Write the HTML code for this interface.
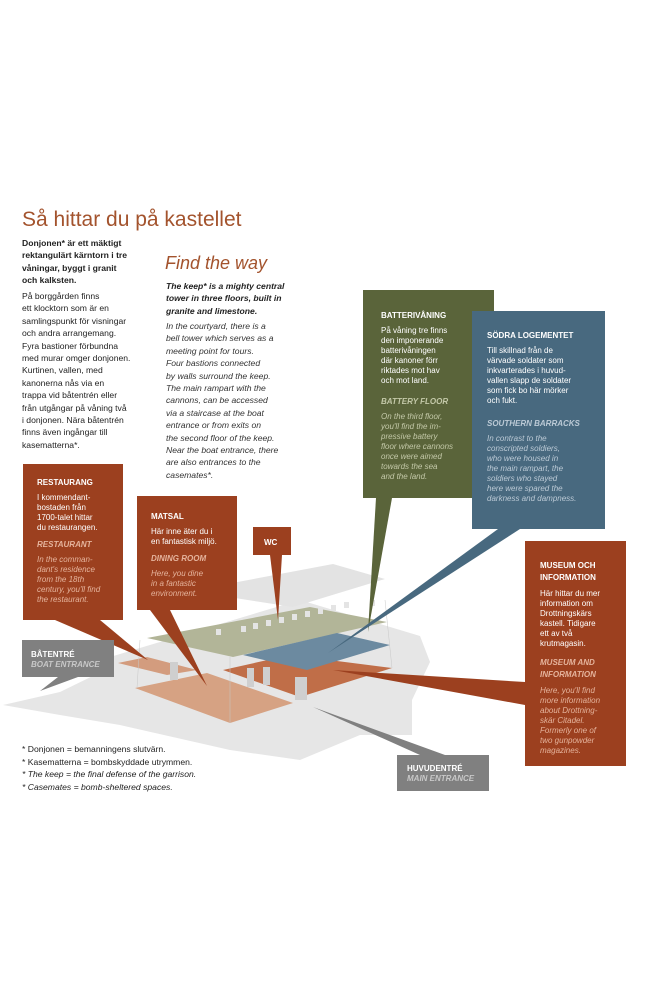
<!DOCTYPE html>
<html><head><meta charset="utf-8">
<style>
body{margin:0;width:645px;height:1000px;background:#fff;position:relative;overflow:hidden;font-family:"Liberation Sans",sans-serif;}
.a{position:absolute;}
svg{position:absolute;left:0;top:0;}
.t{font-size:8.6px;line-height:12.4px;color:#222;white-space:nowrap;}
.box{position:absolute;color:#fff;font-size:8px;line-height:10px;box-sizing:border-box;}
.box b{display:block;font-size:8px;margin-bottom:5px;}
.box i{display:block;}
.rb{background:#9c401f;}
.rb .e{color:#e5b39c;}
.gb{background:#5a643a;}
.gb .e{color:#c4c9a9;}
.bb{background:#48697f;}
.bb .e{color:#bccad6;}
</style></head><body>
<svg width="645" height="1000">
<polygon points="3,705 60,692 105,670 100,660 300,600 420,636 430,662 412,700 410,735 360,735 300,760 230,750 120,725 60,715" fill="#e6e6e6"/>
<polygon points="360,712 412,700 412,735 395,735" fill="#e6e6e6"/>
<polygon points="190,591 333,564 385,579 293,607" fill="#e3e3e3"/>
<polygon points="147,638 310,607 387,622 233,657" fill="#b2b598"/>
<polygon points="118,663 147,657 197,670 167,675" fill="#d39c7e"/>
<polygon points="223,670 290,655 392,668 300,697" fill="#c06e48"/>
<polygon points="243,655 337,633 390,645 307,670" fill="#6c8aa0"/>
<polygon points="135,688 207,673 293,703 230,723" fill="#d6a283"/>
<rect x="170" y="662" width="8" height="18" fill="#cfcfcf"/>
<rect x="247" y="668" width="7" height="19" fill="#cfcfcf"/>
<rect x="263" y="667" width="7" height="18" fill="#cfcfcf"/>
<rect x="295" y="677" width="12" height="23" fill="#cfcfcf"/>
<g fill="#e4e4e4">
<rect x="216" y="629" width="5" height="6"/><rect x="241" y="626" width="5" height="6"/><rect x="253" y="623" width="5" height="6"/><rect x="266" y="620" width="5" height="6"/><rect x="279" y="617" width="5" height="6"/><rect x="292" y="614" width="5" height="6"/><rect x="305" y="611" width="5" height="6"/><rect x="318" y="608" width="5" height="6"/><rect x="331" y="605" width="5" height="6"/><rect x="344" y="602" width="5" height="6"/><rect x="370" y="600" width="5" height="6"/>
</g>
<g stroke="#c8c8c8" stroke-width="0.5">
<line x1="140" y1="640" x2="137" y2="688"/><line x1="230" y1="657" x2="230" y2="723"/><line x1="385" y1="600" x2="392" y2="668"/>
</g>
<polygon points="55,620 100,620 148,660" fill="#9c401f"/>
<polygon points="150,610 170,610 207,686" fill="#9c401f"/>
<polygon points="270,555 282,555 278,620" fill="#9c401f"/>
<polygon points="376,498 392,498 368,632" fill="#5a643a"/>
<polygon points="498,529 520,529 328,653" fill="#48697f"/>
<polygon points="525,682 525,705 333,670" fill="#9c401f"/>
<polygon points="58,677 78,677 40,691" fill="#808080"/>
<polygon points="420,755 445,755 313,707" fill="#808080"/>
</svg>

<div class="a" style="left:22px;top:208px;font-size:21px;color:#a3532d;">Så hittar du på kastellet</div>
<div class="a t" style="left:22px;top:237px;font-weight:bold;">Donjonen* är ett mäktigt<br>rektangulärt kärntorn i tre<br>våningar, byggt i granit<br>och kalksten.</div>
<div class="a t" style="left:22px;top:290px;">På borggården finns<br>ett klocktorn som är en<br>samlingspunkt för visningar<br>och andra arrangemang.<br>Fyra bastioner förbundna<br>med murar omger donjonen.<br>Kurtinen, vallen, med<br>kanonerna nås via en<br>trappa vid båtentrén eller<br>från utgångar på våning två<br>i donjonen. Nära båtentrén<br>finns även ingångar till<br>kasematterna*.</div>

<div class="a" style="left:165px;top:253px;font-size:18px;font-style:italic;color:#a3532d;">Find the way</div>
<div class="a t" style="left:166px;top:280px;font-weight:bold;font-style:italic;">The keep* is a mighty central<br>tower in three floors, built in<br>granite and limestone.</div>
<div class="a t" style="left:166px;top:320px;font-style:italic;color:#333;">In the courtyard, there is a<br>bell tower which serves as a<br>meeting point for tours.<br>Four bastions connected<br>by walls surround the keep.<br>The main rampart with the<br>cannons, can be accessed<br>via a staircase at the boat<br>entrance or from exits on<br>the second floor of the keep.<br>Near the boat entrance, there<br>are also entrances to the<br>casemates*.</div>

<div class="box rb" style="left:23px;top:464px;width:100px;height:156px;padding:14px 0 0 14px;">
<b>RESTAURANG</b>I kommendant-<br>bostaden från<br>1700-talet hittar<br>du restaurangen.<br><i class="e" style="font-weight:bold;margin:7px 0 5px;">RESTAURANT</i><i class="e">In the comman-<br>dant's residence<br>from the 18th<br>century, you'll find<br>the restaurant.</i></div>

<div class="box rb" style="left:137px;top:496px;width:100px;height:114px;padding:16px 0 0 14px;">
<b>MATSAL</b>Här inne äter du i<br>en fantastisk miljö.<i class="e" style="font-weight:bold;margin:7px 0 5px;">DINING ROOM</i><i class="e">Here, you dine<br>in a fantastic<br>environment.</i></div>

<div class="box rb" style="left:253px;top:527px;width:38px;height:28px;padding:11px 0 0 11px;"><b>WC</b></div>

<div class="box gb" style="left:363px;top:290px;width:131px;height:208px;padding:21px 0 0 18px;">
<b>BATTERIVÅNING</b>På våning tre finns<br>den imponerande<br>batterivåningen<br>där kanoner förr<br>riktades mot hav<br>och mot land.<i class="e" style="font-weight:bold;margin:11px 0 5px;">BATTERY FLOOR</i><i class="e">On the third floor,<br>you'll find the im-<br>pressive battery<br>floor where cannons<br>once were aimed<br>towards the sea<br>and the land.</i></div>

<div class="box bb" style="left:472px;top:311px;width:133px;height:218px;padding:20px 0 0 15px;">
<b>SÖDRA LOGEMENTET</b>Till skillnad från de<br>värvade soldater som<br>inkvarterades i huvud-<br>vallen slapp de soldater<br>som fick bo här mörker<br>och fukt.<i class="e" style="font-weight:bold;margin:13px 0 5px;">SOUTHERN BARRACKS</i><i class="e">In contrast to the<br>conscripted soldiers,<br>who were housed in<br>the main rampart, the<br>soldiers who stayed<br>here were spared the<br>darkness and dampness.</i></div>

<div class="box rb" style="left:525px;top:541px;width:101px;height:225px;padding:19px 0 0 15px;">
<b style="line-height:12px;">MUSEUM OCH<br>INFORMATION</b>Här hittar du mer<br>information om<br>Drottningskärs<br>kastell. Tidigare<br>ett av två<br>krutmagasin.<i class="e" style="font-weight:bold;margin:8px 0 5px;line-height:12px;">MUSEUM AND<br>INFORMATION</i><i class="e">Here, you'll find<br>more information<br>about Drottning-<br>skär Citadel.<br>Formerly one of<br>two gunpowder<br>magazines.</i></div>

<div class="box" style="left:22px;top:640px;width:92px;height:37px;background:#808080;padding:10px 0 0 9px;"><b style="margin:0;">BÅTENTRÉ</b><i style="color:#c8c8c8;font-weight:bold;">BOAT ENTRANCE</i></div>
<div class="box" style="left:397px;top:755px;width:92px;height:36px;background:#808080;padding:9px 0 0 10px;"><b style="margin:0;">HUVUDENTRÉ</b><i style="color:#c8c8c8;font-weight:bold;">MAIN ENTRANCE</i></div>

<div class="a" style="left:22px;top:743px;font-size:8.6px;line-height:12.5px;color:#222;">* Donjonen = bemanningens slutvärn.<br>* Kasematterna = bombskyddade utrymmen.<br><i>* The keep = the final defense of the garrison.<br>* Casemates = bomb-sheltered spaces.</i></div>
</body></html>
